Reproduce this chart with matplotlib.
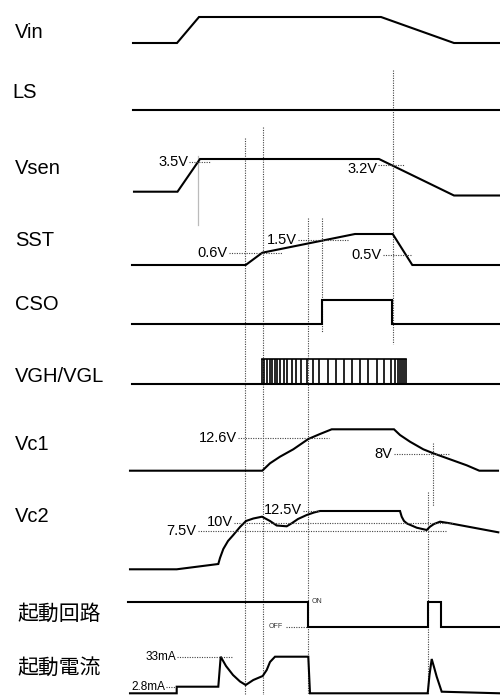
import numpy as np
import matplotlib.pyplot as plt

# 波形データ (横: 時間軸の位置, 縦: 図上の高さ)
vin_x = [133, 177, 199, 381, 454, 500]
vin_y = [43, 43, 17, 17, 43, 43]

ls_x = [133, 500]
ls_y = [110, 110]

vsen_x = [134, 177.5, 200, 379, 454, 500]
vsen_y = [191.7, 191.7, 159, 159, 195.5, 195.5]

sst_x = [132, 245.7, 262.3, 355, 392.7, 412.3, 500]
sst_y = [265, 265, 252.7, 234, 234, 265, 265]

cso_x = [131.7, 322.3, 322.3, 392.3, 392.3, 500]
cso_y = [324, 324, 300, 300, 324, 324]

vg_base_y = 384.3
vg_top_y = 359
vg_bars = [261.7, 264.3, 267, 269.7, 272, 274.7, 277.3, 280.3, 284, 287.3,
           291.7, 296, 301, 306.7, 312.7, 319.3, 328, 336, 344, 352.3,
           360, 368.3, 376.7, 384, 390.7, 395, 397.7, 400, 402.3, 404, 405.7]

vc1_x = [130, 262.3, 270, 280, 293.3, 308.3, 320, 331.7, 394, 400, 410,
         423.3, 433.3, 450, 466.7, 479.3, 498]
vc1_y = [470.7, 470.7, 463.3, 456.7, 449.3, 439, 434, 429.3, 429.3, 435,
         441.7, 449.3, 453.3, 459.3, 465.3, 470.7, 470.7]

vc2_x = [130, 176.7, 218.3, 220, 223.3, 228, 233.3, 240, 246, 253.3, 262,
         270, 276.7, 286.7, 291.7, 298, 306.7, 314, 320, 400, 401.7, 404,
         407, 416.7, 426.7, 430, 434, 440, 450, 498.3]
vc2_y = [569.3, 569.3, 564, 558, 549, 541, 535, 527, 521, 518.5, 516.7,
         521, 525.5, 526.3, 523.3, 519, 515, 512.5, 511, 511, 516.7, 521,
         523.5, 527.7, 530, 526.7, 524, 521.7, 523.3, 532.3]

kairo_x = [128.3, 308.3, 308.3, 427.7, 427.7, 441, 441, 500]
kairo_y = [601.7, 601.7, 626.7, 626.7, 601.7, 601.7, 626.7, 626.7]

denryu_x = [130, 176.7, 176.7, 218.3, 220.7, 226, 233, 240, 245.7, 253.3,
            262.7, 266.7, 270, 275, 308.3, 310, 427.7, 429.5, 431.7, 434,
            436.7, 441.7, 500]
denryu_y = [693.3, 693.3, 686.7, 686.7, 656.7, 666, 675, 681.5, 685, 680,
            676, 670, 662, 656.7, 656.7, 693.3, 693.3, 675, 659, 667,
            676.7, 691.7, 693.3]

# 縦の補助線 (x, 上端, 下端)
guides = [(245.3, 138, 695), (262.5, 127, 695), (308.3, 218, 695),
          (322.3, 218, 332), (392.7, 70, 344), (433.3, 443, 506),
          (427.5, 491.7, 695)]

# 信号名
names = ["Vin", "LS", "Vsen", "SST", "CSO", "VGH/VGL", "Vc1", "Vc2"]
names_y = [33, 93, 168, 241, 305, 376, 445, 517]
names_x = [15, 12, 15, 15, 15, 15, 15, 15]
jp_names = ["起動回路", "起動電流"]
jp_names_y = [614, 668]

# 電圧ラベル (文字, 文字右端x, y, 点線終点x, 点線y)
vlabels = [("3.5V", 188, 162, 210, 162),
           ("3.2V", 377, 169, 404, 165),
           ("0.6V", 228, 252.7, 281.7, 252.7),
           ("1.5V", 297, 240, 348, 240),
           ("0.5V", 381.7, 255, 410.7, 255),
           ("12.6V", 236.7, 438.3, 329.3, 438.3),
           ("8V", 392.7, 454.3, 449, 454.3),
           ("12.5V", 301.7, 510, 320, 510.7),
           ("10V", 233.3, 522.5, 453.3, 522.5),
           ("7.5V", 196.7, 530.7, 445.7, 530.7)]

ma_labels = [("33mA", 176, 657, 232.7, 656.7),
             ("2.8mA", 165, 686.7, 176, 686.7)]

plt.rcParams['font.family'] = ['Liberation Sans', 'DejaVu Sans']

fig = plt.figure(figsize=(5, 6.95), dpi=100)
ax = fig.add_axes([0, 0, 1, 1])
ax.set_xlim(0, 500)
ax.set_ylim(695, 0)
ax.axis("off")

dot = dict(color="#444444", lw=0.8, ls=(0, (1, 1.2)))

for x, y0, y1 in guides:
    ax.plot([x, x], [y0, y1], **dot)
ax.plot([197.7, 197.7], [155.7, 225], color="#bbbbbb", lw=0.9)

wave = dict(color="black", lw=1.5, solid_joinstyle="miter")
for xs, ys in [(vin_x, vin_y), (ls_x, ls_y), (vsen_x, vsen_y),
               (sst_x, sst_y), (cso_x, cso_y), (vc1_x, vc1_y),
               (vc2_x, vc2_y), (kairo_x, kairo_y), (denryu_x, denryu_y)]:
    ax.plot(xs, ys, **wave)

# VGH/VGL のパルス列
ax.plot([131.7, 500], [vg_base_y, vg_base_y], **wave)
ax.plot([vg_bars[0], vg_bars[-1]], [vg_top_y, vg_top_y], color="black", lw=1.2)
ax.vlines(vg_bars, vg_top_y, vg_base_y, color="black", lw=1.2)

for t, x, y in zip(names, names_x, names_y):
    ax.text(x, y, t, fontsize=14.5, ha="left", va="center")
for t, y in zip(jp_names, jp_names_y):
    ax.text(17, y, t, fontsize=15, ha="left", va="center",
            family=["Noto Sans CJK JP", "DejaVu Sans"])

for t, xr, y, xe, yd in vlabels:
    ax.text(xr, y, t, fontsize=10.5, ha="right", va="center")
    ax.plot([xr + 1, xe], [yd, yd], **dot)

for t, xr, y, xe, yd in ma_labels:
    ax.text(xr, y, t, fontsize=8.5, ha="right", va="center")
    ax.plot([xr + 1, xe], [yd, yd], **dot)

ax.text(311.5, 601.7, "ON", fontsize=5, ha="left", va="center", color="#333333")
ax.text(283.3, 627, "OFF", fontsize=5, ha="right", va="center", color="#333333")
ax.plot([286, 308], [626.7, 626.7], **dot)

fig.savefig("out.png", dpi=100)
